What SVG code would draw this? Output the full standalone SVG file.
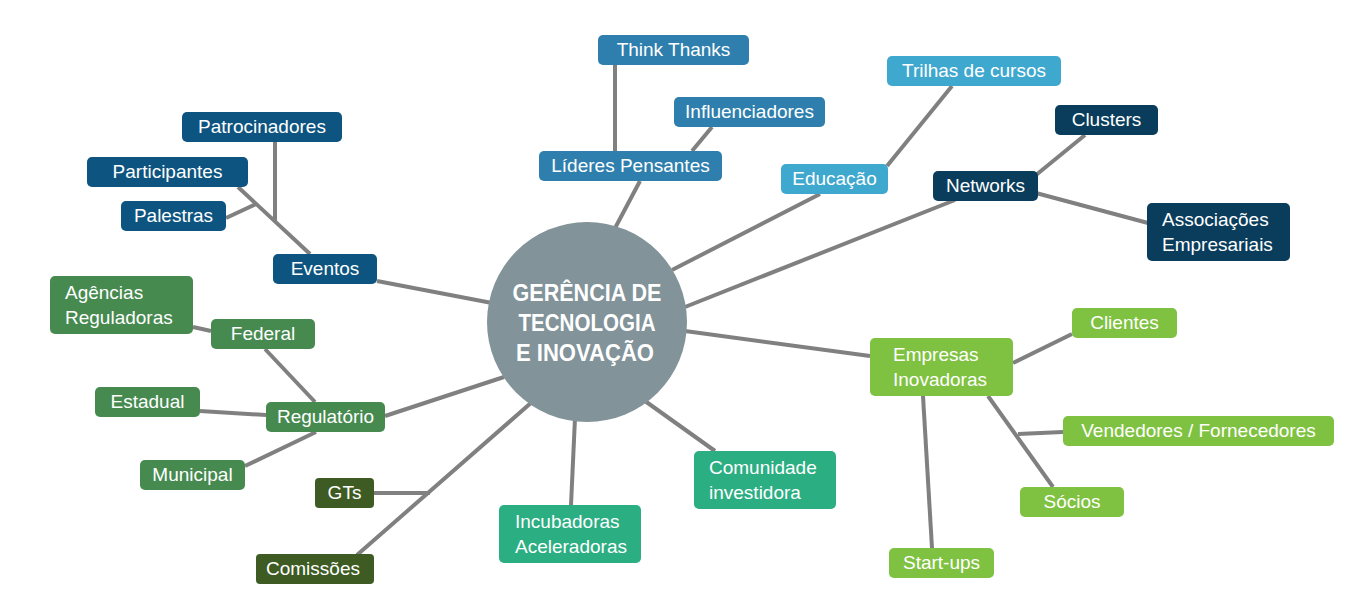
<svg xmlns="http://www.w3.org/2000/svg" width="1366" height="609" viewBox="0 0 1366 609">
<style>
.l{stroke:#808080;stroke-width:4;fill:none;stroke-linecap:butt}
.t{font-family:"Liberation Sans",Arial,sans-serif;font-size:19px;fill:#ffffff}
.c{text-anchor:middle}
.hub{font-family:"Liberation Sans",Arial,sans-serif;font-size:24px;font-weight:bold;fill:#ffffff;text-anchor:middle}
.b1{fill:#2e7fad}
.b2{fill:#3fa8cf}
.b3{fill:#0a3d5c}
.b4{fill:#0d5480}
.b5{fill:#468a4f}
.b6{fill:#3d5b23}
.b7{fill:#2bae82}
.b8{fill:#7fc241}
</style>
<rect width="1366" height="609" fill="#ffffff"/>
<g id="connectors">
<line class="l" x1="615" y1="64" x2="615" y2="151"/>
<line class="l" x1="712" y1="127" x2="692" y2="151"/>
<line class="l" x1="640" y1="181" x2="614" y2="230"/>
<line class="l" x1="952" y1="86" x2="887" y2="166"/>
<line class="l" x1="820" y1="194" x2="672" y2="270"/>
<line class="l" x1="1085" y1="135" x2="1036" y2="175"/>
<line class="l" x1="1036" y1="193" x2="1148" y2="223"/>
<line class="l" x1="955" y1="200" x2="685" y2="307"/>
<line class="l" x1="275" y1="142" x2="275" y2="222"/>
<line class="l" x1="238" y1="187" x2="310" y2="254"/>
<line class="l" x1="226" y1="218" x2="256" y2="204"/>
<line class="l" x1="377" y1="281" x2="492" y2="303"/>
<line class="l" x1="193" y1="327" x2="211" y2="331"/>
<line class="l" x1="265" y1="349" x2="315" y2="402"/>
<line class="l" x1="200" y1="411" x2="266" y2="415"/>
<line class="l" x1="245" y1="466" x2="316" y2="432"/>
<line class="l" x1="385" y1="416" x2="504" y2="377"/>
<line class="l" x1="357" y1="555" x2="532" y2="402"/>
<line class="l" x1="374" y1="493" x2="430" y2="493"/>
<line class="l" x1="571" y1="505" x2="575" y2="418"/>
<line class="l" x1="715" y1="451" x2="645" y2="401"/>
<line class="l" x1="870" y1="356" x2="685" y2="331"/>
<line class="l" x1="1013" y1="363" x2="1072" y2="334"/>
<line class="l" x1="988" y1="396" x2="1053" y2="487"/>
<line class="l" x1="1018" y1="434" x2="1063" y2="432"/>
<line class="l" x1="923" y1="396" x2="932" y2="548"/>
</g>
<g id="hub">
<circle cx="587" cy="322" r="100" fill="#82939a"/>
<text class="hub" x="587" y="301" textLength="149" lengthAdjust="spacingAndGlyphs">GERÊNCIA DE</text>
<text class="hub" x="587" y="331" textLength="137" lengthAdjust="spacingAndGlyphs">TECNOLOGIA</text>
<text class="hub" x="585" y="361" textLength="138" lengthAdjust="spacingAndGlyphs">E INOVAÇÃO</text>
</g>
<g id="think-thanks"><rect class="b1" x="598" y="35" width="151" height="30" rx="5"/><text class="t c" x="673.5" y="56">Think Thanks</text></g>
<g id="influenciadores"><rect class="b1" x="674" y="97" width="151" height="30" rx="5"/><text class="t c" x="749.5" y="118">Influenciadores</text></g>
<g id="lideres"><rect class="b1" x="539" y="151" width="183" height="30" rx="5"/><text class="t c" x="630.5" y="172">Líderes Pensantes</text></g>
<g id="trilhas"><rect class="b2" x="887" y="56" width="174" height="30" rx="5"/><text class="t c" x="974" y="77">Trilhas de cursos</text></g>
<g id="educacao"><rect class="b2" x="781" y="164" width="107" height="30" rx="5"/><text class="t c" x="834.5" y="185">Educação</text></g>
<g id="clusters"><rect class="b3" x="1055" y="105" width="103" height="30" rx="5"/><text class="t c" x="1106.5" y="126">Clusters</text></g>
<g id="networks"><rect class="b3" x="933" y="171" width="105" height="30" rx="5"/><text class="t c" x="985.5" y="192">Networks</text></g>
<g id="associacoes"><rect class="b3" x="1147" y="203" width="143" height="58" rx="5"/><text class="t" x="1162" y="226">Associações</text><text class="t" x="1162" y="251">Empresariais</text></g>
<g id="patrocinadores"><rect class="b4" x="182" y="112" width="160" height="30" rx="5"/><text class="t c" x="262" y="133">Patrocinadores</text></g>
<g id="participantes"><rect class="b4" x="87" y="157" width="161" height="30" rx="5"/><text class="t c" x="167.5" y="178">Participantes</text></g>
<g id="palestras"><rect class="b4" x="121" y="201" width="105" height="30" rx="5"/><text class="t c" x="173.5" y="222">Palestras</text></g>
<g id="eventos"><rect class="b4" x="273" y="254" width="104" height="30" rx="5"/><text class="t c" x="325" y="275">Eventos</text></g>
<g id="agencias"><rect class="b5" x="50" y="276" width="143" height="58" rx="5"/><text class="t" x="65" y="299">Agências</text><text class="t" x="65" y="324">Reguladoras</text></g>
<g id="federal"><rect class="b5" x="211" y="319" width="104" height="30" rx="5"/><text class="t c" x="263" y="340">Federal</text></g>
<g id="estadual"><rect class="b5" x="95" y="387" width="105" height="30" rx="5"/><text class="t c" x="147.5" y="408">Estadual</text></g>
<g id="regulatorio"><rect class="b5" x="266" y="402" width="119" height="30" rx="5"/><text class="t c" x="325.5" y="423">Regulatório</text></g>
<g id="municipal"><rect class="b5" x="140" y="460" width="105" height="30" rx="5"/><text class="t c" x="192.5" y="481">Municipal</text></g>
<g id="gts"><rect class="b6" x="315" y="478" width="59" height="30" rx="4"/><text class="t c" x="344.5" y="499">GTs</text></g>
<g id="comissoes"><rect class="b6" x="256" y="554" width="118" height="30" rx="4"/><text class="t c" x="313" y="575">Comissões</text></g>
<g id="incubadoras"><rect class="b7" x="499" y="505" width="142" height="58" rx="5"/><text class="t" x="515" y="528">Incubadoras</text><text class="t" x="515" y="553">Aceleradoras</text></g>
<g id="comunidade"><rect class="b7" x="694" y="451" width="142" height="58" rx="5"/><text class="t" x="709" y="474">Comunidade</text><text class="t" x="709" y="499">investidora</text></g>
<g id="empresas"><rect class="b8" x="870" y="338" width="143" height="58" rx="5"/><text class="t" x="893" y="361">Empresas</text><text class="t" x="893" y="386">Inovadoras</text></g>
<g id="clientes"><rect class="b8" x="1072" y="308" width="105" height="30" rx="5"/><text class="t c" x="1124.5" y="329">Clientes</text></g>
<g id="vendedores"><rect class="b8" x="1063" y="416" width="271" height="30" rx="5"/><text class="t c" x="1198.5" y="437">Vendedores / Fornecedores</text></g>
<g id="socios"><rect class="b8" x="1020" y="487" width="104" height="30" rx="5"/><text class="t c" x="1072" y="508">Sócios</text></g>
<g id="startups"><rect class="b8" x="889" y="548" width="105" height="30" rx="5"/><text class="t c" x="941.5" y="569">Start-ups</text></g>
</svg>
